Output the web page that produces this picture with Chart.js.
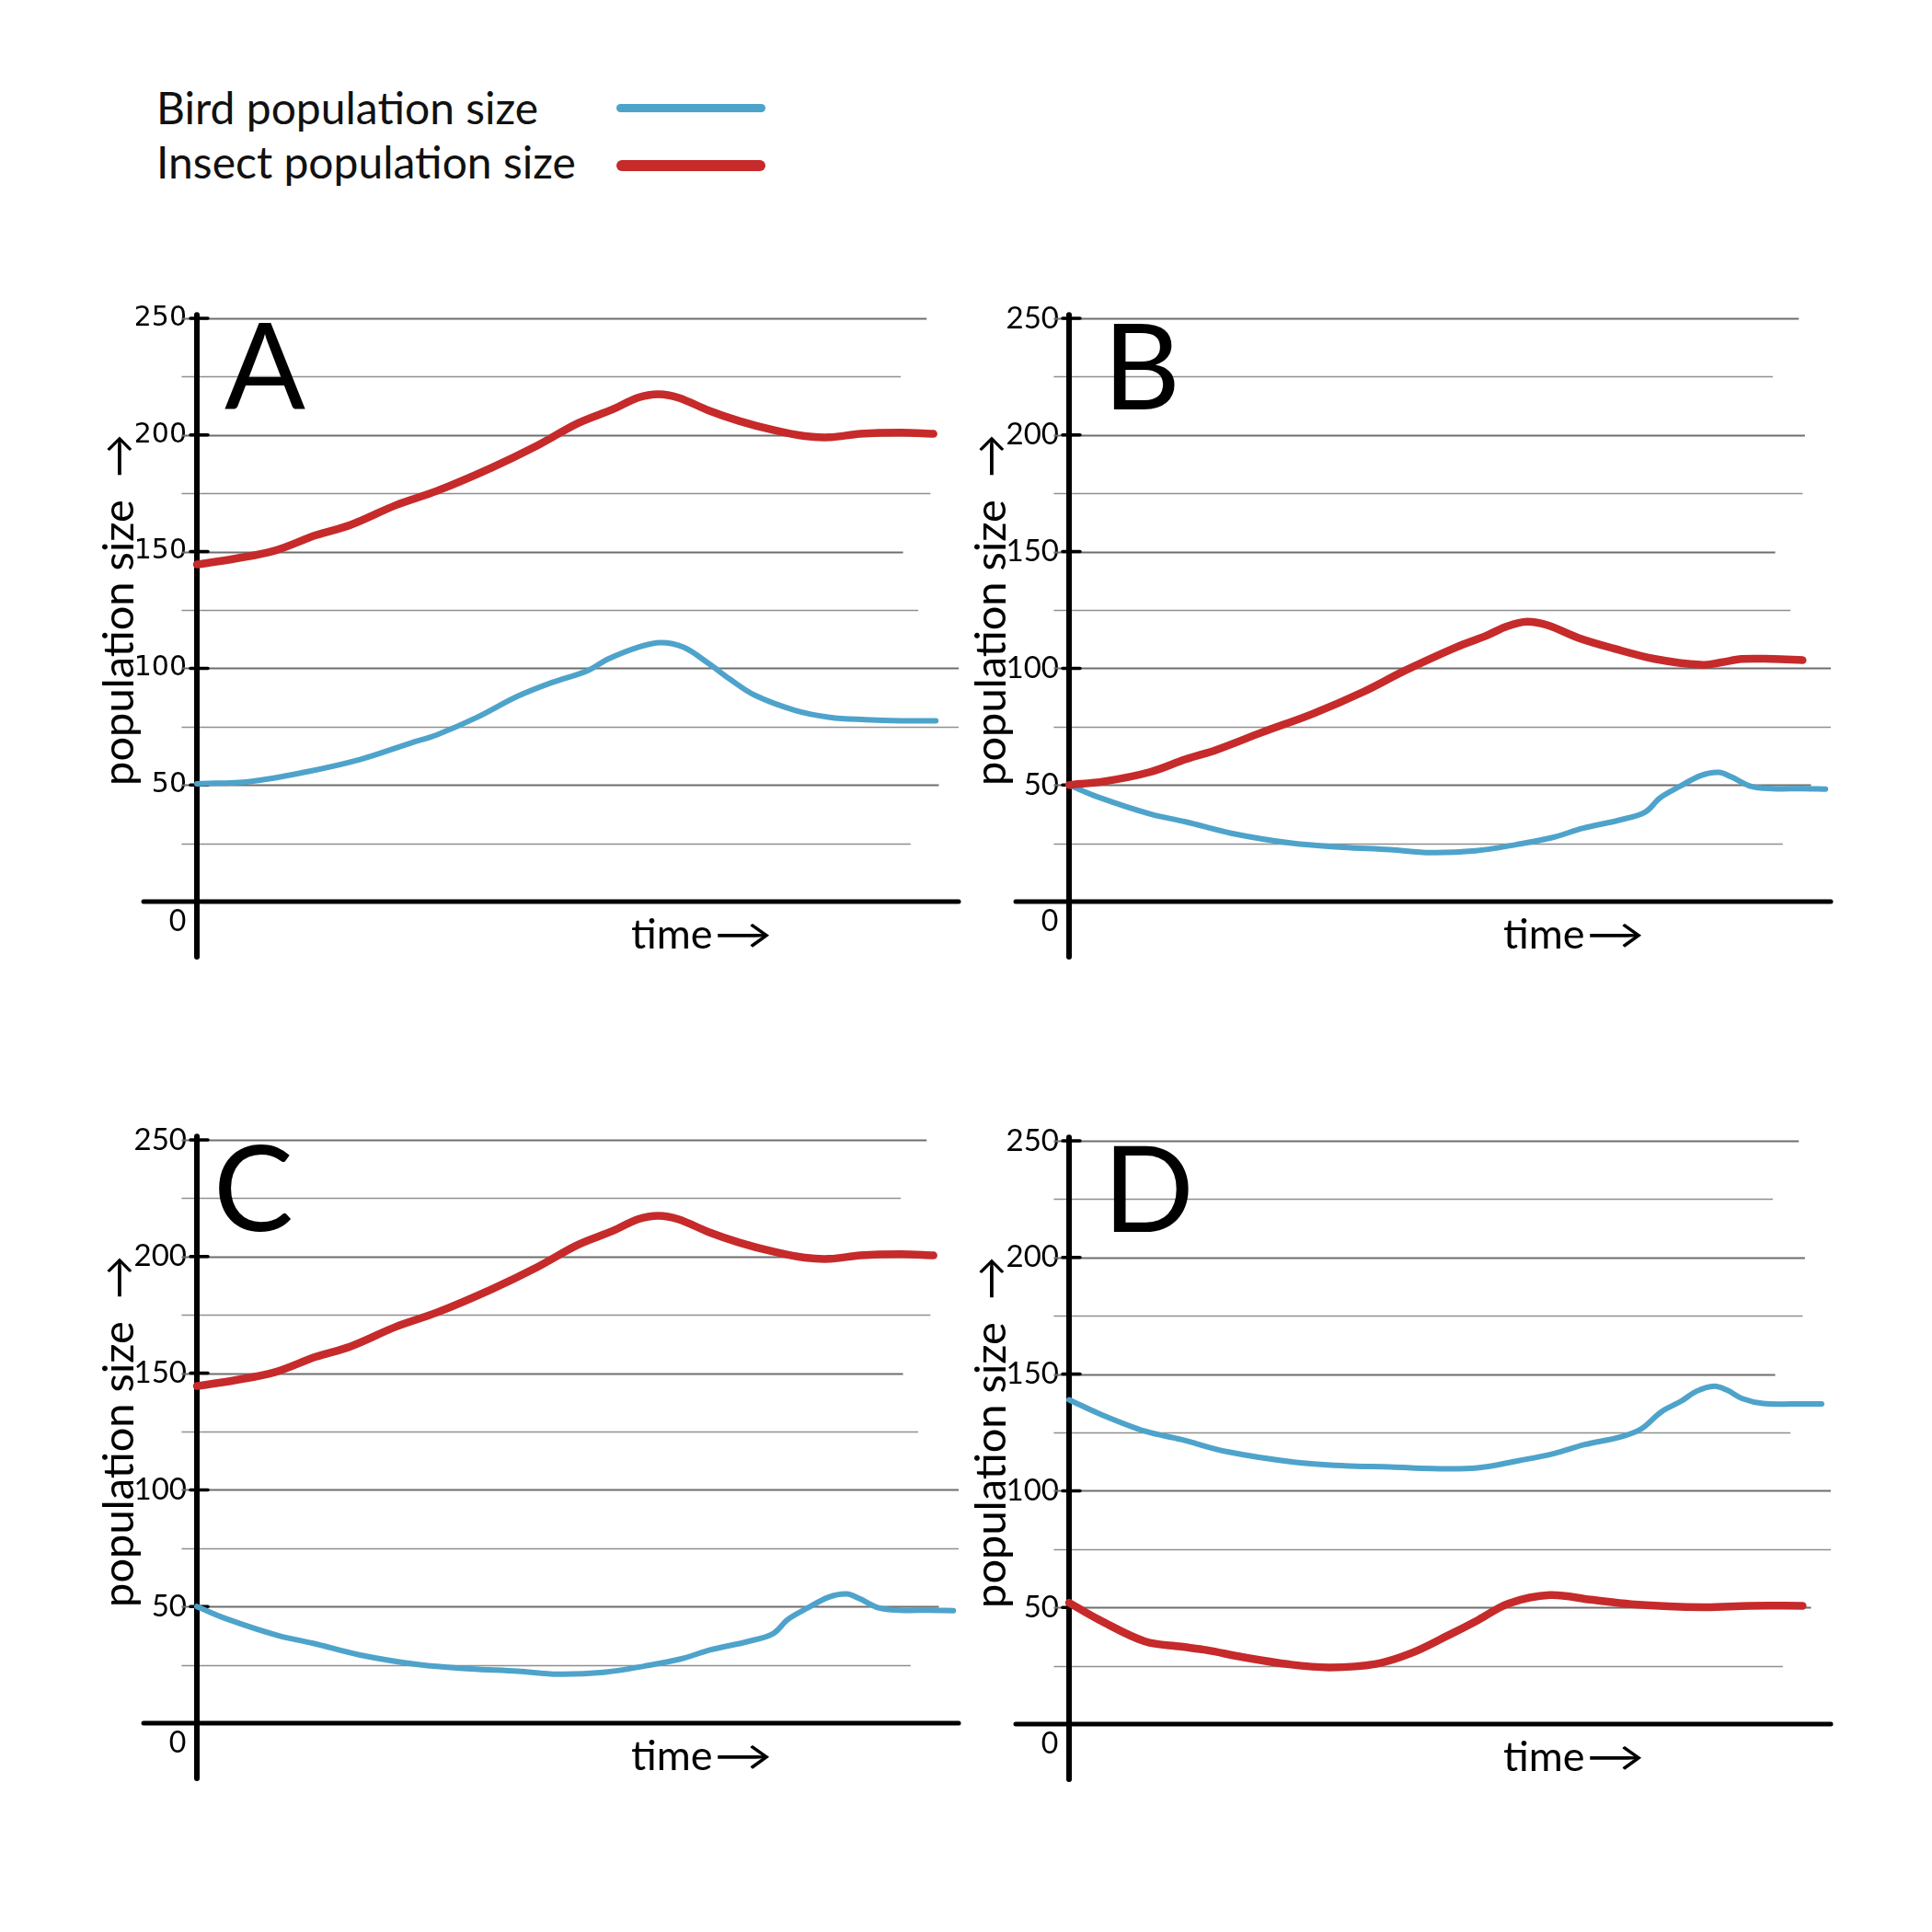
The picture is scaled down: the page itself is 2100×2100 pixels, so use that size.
<!DOCTYPE html>
<html>
<head>
<meta charset="utf-8">
<title>Bird and insect population size</title>
<script src="https://cdn.jsdelivr.net/npm/chart.js@4.4.1/dist/chart.umd.min.js"></script>
<style>
  body { margin: 0; width: 2100px; height: 2100px; background: #fff; position: relative; overflow: hidden; font-family: Lato, "Open Sans", sans-serif; }
  canvas { position: absolute; }
  .key { position: absolute; left: 170px; font-size: 48px; line-height: 58px; color: #111; white-space: nowrap; }
  .swatch { position: absolute; left: 670px; width: 162px; border-radius: 6px; }
</style>
</head>
<body>
<div class="key" style="top:88px">Bird population size</div>
<div class="key" style="top:147px">Insect population size</div>
<div class="swatch" style="top:113px;height:9px;background:#4ea3cb"></div>
<div class="swatch" style="top:174px;height:12px;background:#c62a2a"></div>

<canvas id="chartA" width="1060" height="800" style="left:0;top:300px"></canvas>
<canvas id="chartB" width="1060" height="800" style="left:948px;top:300px"></canvas>
<canvas id="chartC" width="1060" height="800" style="left:0;top:1193px"></canvas>
<canvas id="chartD" width="1060" height="800" style="left:948px;top:1194px"></canvas>

<script>
// values (time is 0..100 along the x axis)
const timeInsectAC = [0, 5, 10.3, 15.6, 20.2, 26.2, 31.5, 38.7, 44.7, 50, 54.6, 57.9, 60.6, 63.2, 67.2, 71.2, 75.8, 79.8, 83.1, 87.1, 92.4, 96.7];
const insectAC = [144.5, 147, 150.5, 157, 161.5, 170, 176, 186, 195.5, 205, 211, 216, 217.5, 216, 210.5, 206, 202, 199.5, 199, 200.5, 201, 200.5];

const timeBirdA = [0, 7, 14.2, 21.5, 28.1, 31.5, 36.8, 42.1, 46.7, 51.3, 54, 57.9, 60.9, 63.9, 67.2, 69.9, 73.2, 78.5, 83.1, 87.7, 92.4, 97];
const birdA = [50.5, 51.5, 55.5, 61, 68, 71.5, 79, 88, 94, 99, 104, 109, 111, 109, 102, 95.5, 88.5, 82, 79, 78, 77.5, 77.5];

const timeInsectB = [0, 4.6, 10.6, 15.3, 19.3, 25.3, 32, 38.7, 44.1, 50.8, 54.8, 57.5, 60.1, 62.8, 66.9, 71.5, 76.9, 82.9, 85.6, 88.3, 92.3, 96.3];
const insectB = [50, 51.5, 55.5, 61, 65, 72.5, 80.5, 90, 99, 109, 114, 118, 120, 118.5, 113, 108.5, 104, 101.5, 102.5, 104, 104, 103.5];

const timeBirdBC = [0, 3.9, 10.6, 15.3, 21.3, 29.3, 36, 42.1, 47.4, 53.4, 58.8, 63.5, 67.5, 72.2, 75.6, 77.6, 80.2, 82.9, 85.3, 86.9, 89.6, 92.3, 96.3, 99.3];
const birdBC = [50, 44.7, 37.6, 34.2, 29.3, 25, 23.3, 22.3, 21, 21.8, 24.5, 27.5, 31.5, 34.9, 38.3, 44.5, 49.4, 54, 55.4, 53.5, 49.3, 48.4, 48.4, 48.2];

const timeInsectD = [0, 4, 10, 14.7, 18.1, 22.8, 28.9, 34.2, 40.3, 45, 49.7, 53.7, 57.7, 63.1, 68.5, 73.8, 83.2, 89.3, 96.3];
const insectD = [52, 44.6, 35.4, 33.2, 31.7, 28.7, 25.6, 24.3, 25.8, 30.5, 37.9, 44.6, 51.7, 55.3, 53.3, 51.4, 50.1, 50.7, 50.7];

const timeBirdD = [0, 4, 10, 14.7, 20.8, 29.5, 36.2, 42.2, 47.6, 53.6, 59, 63.7, 67.7, 72.4, 75.1, 77.7, 80.4, 82.4, 84.7, 86.4, 88.4, 91.1, 95.1, 98.8];
const birdD = [139, 133, 125.5, 122, 116.7, 112.3, 110.7, 110.2, 109.5, 109.8, 112.9, 116, 119.8, 123.1, 126.5, 133.7, 138.5, 142.7, 144.8, 143.1, 139.5, 137.4, 137.2, 137.2];

// y tick values and the gridlines of the sketch
const yTicks = [0, 50, 100, 150, 200, 250];
const gridValues = [25, 50, 75, 100, 125, 150, 175, 200, 225, 250];
const gridEnds = [93.7, 97.4, 100, 100, 94.7, 92.7, 96.3, 96.6, 92.4, 95.8];

const BLUE = "#4ea3cb";
const RED = "#c62a2a";
const FONT = 'Lato, "Open Sans", sans-serif';

function points(xs, ys) {
  return xs.map((x, i) => ({ x: x, y: ys[i] }));
}

// gridlines, hand-drawn looking axes and extra labels
const sketchPlugin = {
  id: "sketch",
  beforeDatasetsDraw(chart, args, opts) {
    const ctx = chart.ctx;
    const xs = chart.scales.x, ys = chart.scales.y;
    const x0 = xs.getPixelForValue(0), y0 = ys.getPixelForValue(0);
    ctx.save();
    gridValues.forEach((v, i) => {
      const py = Math.round(ys.getPixelForValue(v)) + 0.5;
      ctx.beginPath();
      ctx.lineWidth = v % 50 === 0 ? 1.8 : 1.5;
      ctx.strokeStyle = v % 50 === 0 ? "#6e6e6e" : "#8f8f8f";
      ctx.moveTo(xs.getPixelForValue(-2), py);
      ctx.lineTo(xs.getPixelForValue(gridEnds[i]), py);
      ctx.stroke();
    });

    ctx.strokeStyle = "#000";
    ctx.lineCap = "round";
    // y axis
    ctx.lineWidth = 6;
    ctx.beginPath();
    ctx.moveTo(x0, ys.getPixelForValue(251.5));
    ctx.lineTo(x0, y0 + 60);
    ctx.stroke();
    // x axis
    ctx.lineWidth = 5;
    ctx.beginPath();
    ctx.moveTo(xs.getPixelForValue(-7), y0);
    ctx.lineTo(xs.getPixelForValue(100), y0);
    ctx.stroke();
    // tick marks
    ctx.lineWidth = 3.5;
    yTicks.slice(1).forEach((v) => {
      const py = ys.getPixelForValue(v);
      ctx.beginPath();
      ctx.moveTo(x0 - 7, py);
      ctx.lineTo(x0 + 12, py);
      ctx.stroke();
    });
    ctx.restore();
  },
  afterDatasetsDraw(chart, args, opts) {
    const ctx = chart.ctx;
    const xs = chart.scales.x, ys = chart.scales.y;
    const x0 = xs.getPixelForValue(0), y0 = ys.getPixelForValue(0);
    ctx.save();
    ctx.fillStyle = "#000";
    // zero label under the x axis
    ctx.font = "32px " + FONT;
    ctx.textAlign = "center";
    ctx.textBaseline = "middle";
    ctx.fillText("0", x0 - 21, y0 + 22);
    // x axis label, arrow stretched a bit like the sketch
    ctx.font = "45px " + FONT;
    ctx.textAlign = "left";
    ctx.textBaseline = "alphabetic";
    const tx = xs.getPixelForValue(57);
    ctx.fillText("time", tx, y0 + 51);
    const w = ctx.measureText("time").width;
    ctx.save();
    ctx.translate(tx + w + 2, y0 + 51);
    ctx.scale(1.4, 1);
    ctx.fillText("\u2192", 0, 0);
    ctx.restore();
    // panel letter
    ctx.font = "130px " + FONT;
    ctx.fillText(opts.letter, x0 + opts.letterDx, ys.getPixelForValue(250) + 99);
    ctx.restore();
  },
};

function makeChart(id, letter, letterDx, tickFont, birdX, birdY, insectX, insectY) {
  return new Chart(document.getElementById(id), {
    type: "line",
    data: {
      datasets: [
        {
          label: "Insect population size",
          data: points(insectX, insectY),
          borderColor: RED,
          borderWidth: 8.5,
        },
        {
          label: "Bird population size",
          data: points(birdX, birdY),
          borderColor: BLUE,
          borderWidth: 6,
        },
      ],
    },
    options: {
      responsive: false,
      devicePixelRatio: 1,
      animation: false,
      events: [],
      layout: { padding: { top: 46, right: 18, bottom: 120, left: 64 } },
      datasets: {
        line: {
          tension: 0.35,
          pointRadius: 0,
          fill: false,
          clip: false,
          borderCapStyle: "round",
          borderJoinStyle: "round",
        },
      },
      scales: {
        x: { type: "linear", min: 0, max: 100, display: false },
        y: {
          min: 0,
          max: 250,
          afterFit: (s) => { s.width = 150; },
          afterBuildTicks: (s) => { s.ticks = yTicks.map((v) => ({ value: v })); },
          grid: { display: false, drawTicks: false },
          border: { display: false },
          ticks: {
            autoSkip: false,
            padding: 11,
            color: "#000",
            font: tickFont,
            callback: (v) => (v === 0 ? "" : String(v)),
          },
          title: {
            display: true,
            text: "population size  \u2192",
            color: "#000",
            font: { family: FONT, size: 47 },
            padding: { top: 38, bottom: 0 },
          },
        },
      },
      plugins: {
        legend: { display: false },
        tooltip: { enabled: false },
        sketch: { letter: letter, letterDx: letterDx },
      },
    },
    plugins: [sketchPlugin],
  });
}

const tickWide = { family: '"DejaVu Sans", sans-serif', size: 30 };
const tickNarrow = { family: FONT, size: 33 };

makeChart("chartA", "A", 30, tickWide, timeBirdA, birdA, timeInsectAC, insectAC);
makeChart("chartB", "B", 37, tickNarrow, timeBirdBC, birdBC, timeInsectB, insectB);
makeChart("chartC", "C", 18, tickNarrow, timeBirdBC, birdBC, timeInsectAC, insectAC);
makeChart("chartD", "D", 37, tickNarrow, timeBirdD, birdD, timeInsectD, insectD);
</script>
</body>
</html>
